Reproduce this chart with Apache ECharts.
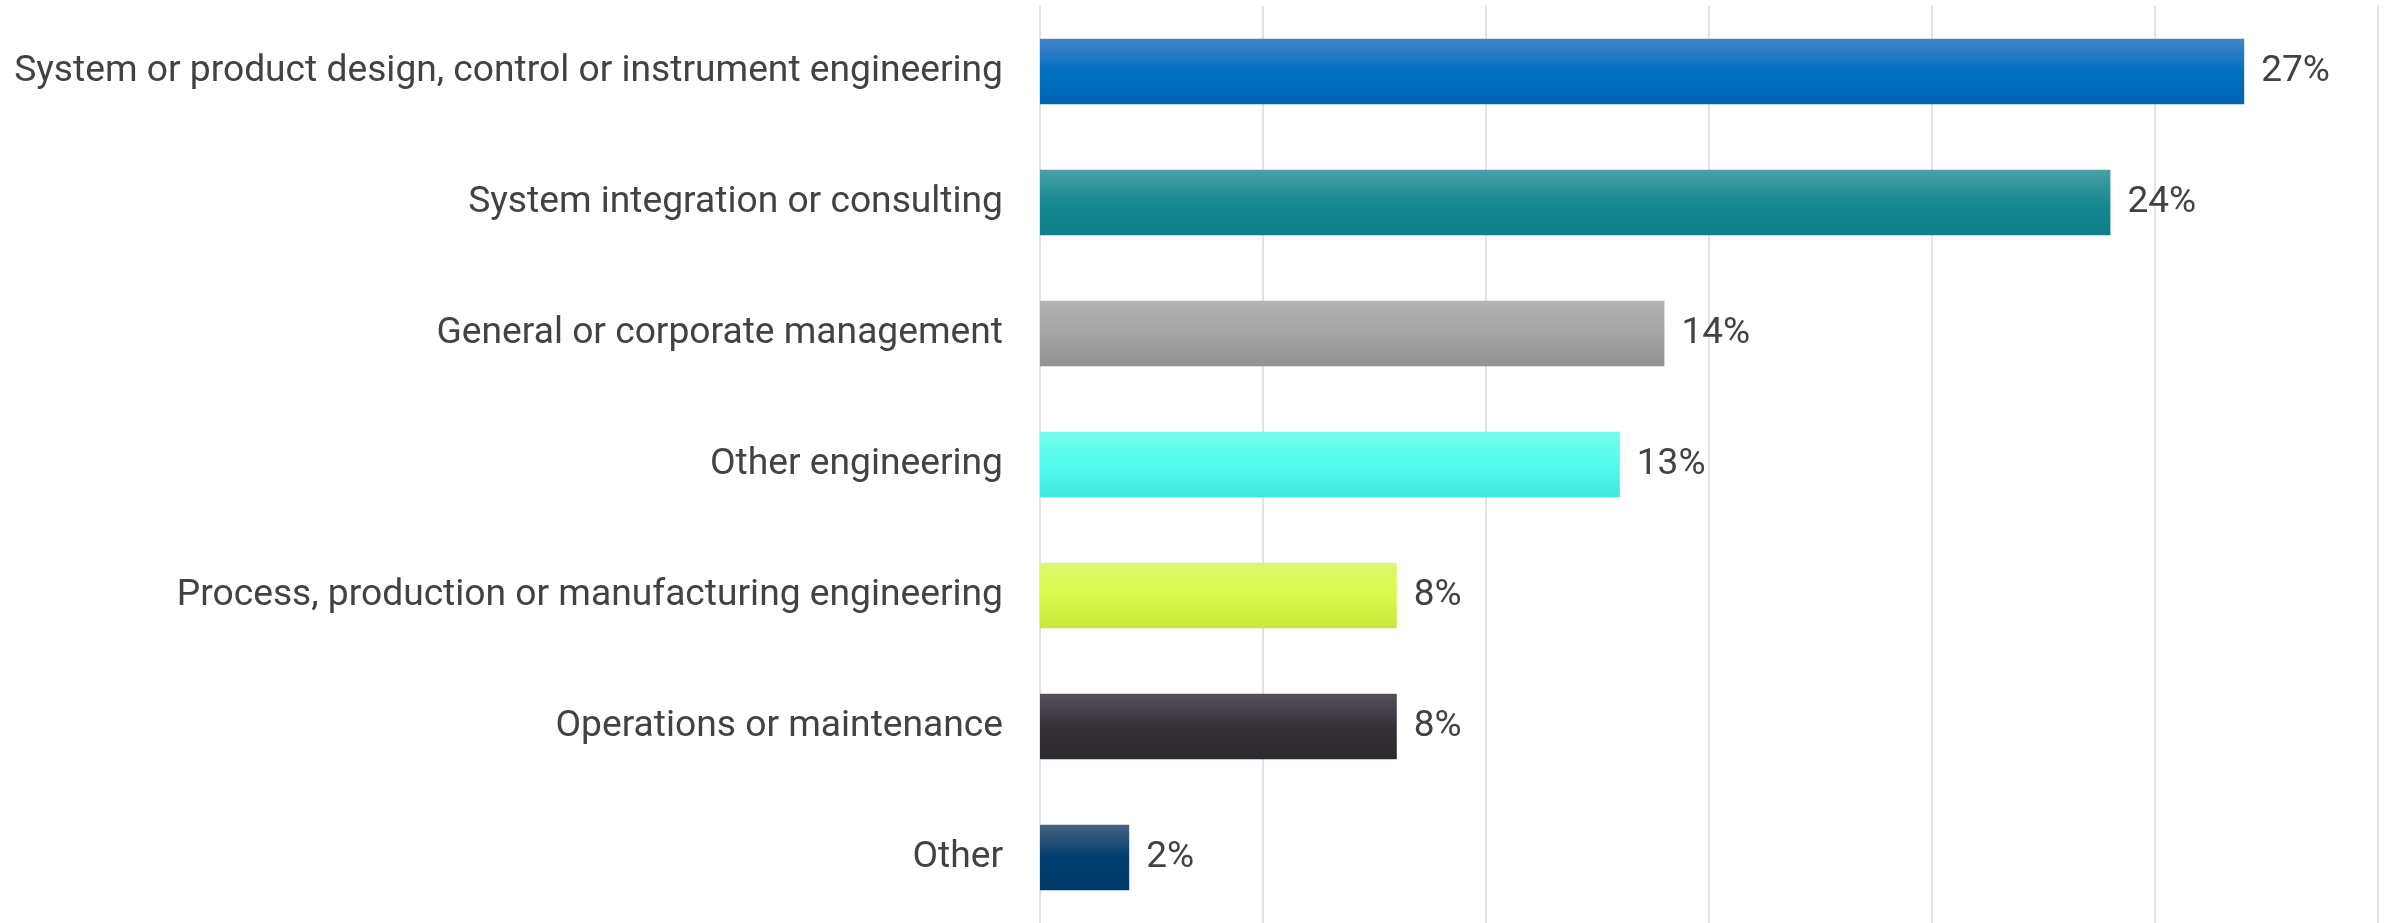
<!DOCTYPE html>
<html>
<head>
<meta charset="utf-8">
<title>Job function</title>
<script src="https://cdn.jsdelivr.net/npm/echarts@6/dist/echarts.min.js"></script>
<style>
  html, body { margin: 0; padding: 0; background: #ffffff; }
  #chart { width: 2387px; height: 923px; }
</style>
</head>
<body>
<div id="chart"></div>
<script>
// Job-function categories, top to bottom
const categories = [
  'System or product design, control or instrument engineering',
  'System integration or consulting',
  'General or corporate management',
  'Other engineering',
  'Process, production or manufacturing engineering',
  'Operations or maintenance',
  'Other'
];

// Share of respondents, percent
const shares = [27, 24, 14, 13, 8, 8, 2];

// Bar fills: [top highlight, body, bottom shade]
const barColors = [
  ['#4584c8', '#0070c0', '#0064b2'],
  ['#4aa0a8', '#188890', '#0f7f88'],
  ['#b2b2b2', '#a4a4a4', '#939393'],
  ['#74fcec', '#52fdee', '#3fe6da'],
  ['#def76e', '#d8fa4c', '#c8e63a'],
  ['#57525a', '#353138', '#2d292f'],
  ['#46617f', '#003f70', '#003a6a']
];

// Value axis ticks
const axisMax = 30;
const axisStep = 5;

function fillFor(c) {
  return new echarts.graphic.LinearGradient(0, 0, 0, 1, [
    { offset: 0, color: c[0] },
    { offset: 0.5, color: c[1] },
    { offset: 1, color: c[2] }
  ]);
}

const chart = echarts.init(document.getElementById('chart'), null, { renderer: 'canvas' });

chart.setOption({
  animation: false,
  backgroundColor: '#ffffff',
  textStyle: { fontFamily: 'Roboto' },
  grid: { left: 1040, right: 9, top: 6, height: 919, containLabel: false },
  xAxis: {
    type: 'value',
    min: 0,
    max: axisMax,
    interval: axisStep,
    axisLabel: { show: false },
    axisTick: { show: false },
    axisLine: { show: false },
    splitLine: { show: true, lineStyle: { color: '#e3e3e3', width: 2 } }
  },
  yAxis: {
    type: 'category',
    inverse: true,
    data: categories,
    axisTick: { show: false },
    axisLine: { show: true, lineStyle: { color: '#e3e3e3', width: 2 } },
    axisLabel: {
      margin: 37,
      fontFamily: 'Roboto',
      fontSize: 37.2,
      color: '#424242',
      padding: [3, 0, 0, 0]
    }
  },
  series: [{
    type: 'bar',
    barCategoryGap: '50%',
    data: shares.map((v, i) => ({
      value: v,
      itemStyle: { color: fillFor(barColors[i]) }
    })),
    label: {
      show: true,
      position: 'right',
      distance: 17,
      padding: [4, 0, 0, 0],
      formatter: p => p.value + '%',
      fontFamily: 'Roboto',
      fontSize: 37,
      color: '#424242'
    }
  }]
});
</script>
</body>
</html>
